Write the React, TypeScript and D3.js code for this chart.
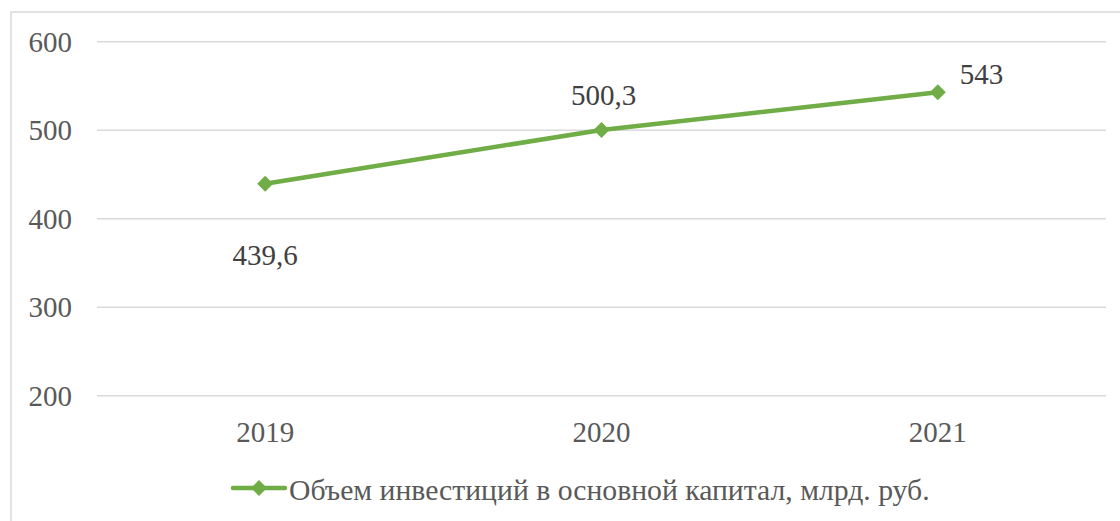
import React from "react";
import * as d3 from "d3";

const categories = ["2019", "2020", "2021"];
const values = [439.6, 500.3, 543];
const valueLabels = ["439,6", "500,3", "543"];
const yTicks = [200, 300, 400, 500, 600];
const seriesName = "Объем инвестиций в основной капитал, млрд. руб.";

const W = 1120;
const H = 521;
const plot = { left: 97, right: 1106, top: 41.7, bottom: 395.7 };
const color = "#70AD47";
const textColor = "#595959";
const FS = 29;

export default function App() {
  const x = d3.scaleBand<string>().domain(categories).range([plot.left, plot.right]);
  const y = d3.scaleLinear().domain([200, 600]).range([plot.bottom, plot.top]);
  const cx = (c: string) => (x(c) ?? 0) + x.bandwidth() / 2;
  const line = d3
    .line<number>()
    .x((_, i) => cx(categories[i]))
    .y((d) => y(d));
  const diamond = (px: number, py: number, r: number) =>
    `M${px},${py - r}L${px + r},${py}L${px},${py + r}L${px - r},${py}Z`;

  const labelPos = (i: number) => {
    const px = cx(categories[i]);
    const py = y(values[i]);
    if (i === 0) return { x: px, y: py + 81.5, anchor: "middle" };
    if (i === 1) return { x: px + 2, y: py - 25, anchor: "middle" };
    return { x: px + 22, y: py - 8, anchor: "start" };
  };

  return (
    <svg
      width={W}
      height={H}
      className="chart"
      style={{ position: "absolute", left: 0, top: 0, background: "#fff", fontFamily: "'Liberation Serif'" }}
    >
      <style>{`.chart text { font-family: "Liberation Serif", "Times New Roman", serif; }`}</style>
      <rect x={11} y={12} width={W + 10} height={H + 10} fill="#fff" stroke="#D9D9D9" strokeWidth={1.5} />
      {yTicks.map((t) => (
        <g key={t}>
          <line x1={plot.left} x2={plot.right} y1={y(t)} y2={y(t)} stroke="#D9D9D9" strokeWidth={1.5} />
          <text x={72} y={y(t) + 10} textAnchor="end" fontSize={FS} fill={textColor}>
            {t}
          </text>
        </g>
      ))}
      {categories.map((c) => (
        <text key={c} x={cx(c)} y={441.5} textAnchor="middle" fontSize={FS} fill={textColor}>
          {c}
        </text>
      ))}
      <path d={line(values) ?? ""} fill="none" stroke={color} strokeWidth={4.5} strokeLinejoin="round" />
      {values.map((v, i) => (
        <path key={i} d={diamond(cx(categories[i]), y(v), 8)} fill={color} />
      ))}
      {values.map((v, i) => {
        const p = labelPos(i);
        return (
          <text key={i} x={p.x} y={p.y} textAnchor={p.anchor as any} fontSize={FS} fill="#404040">
            {valueLabels[i]}
          </text>
        );
      })}
      <line x1={233} x2={285} y1={488} y2={488} stroke={color} strokeWidth={4.5} strokeLinecap="round" />
      <path d={diamond(259, 488, 8)} fill={color} />
      <text x={289} y={500} fontSize={29.7} fill={textColor}>
        {seriesName}
      </text>
    </svg>
  );
}
